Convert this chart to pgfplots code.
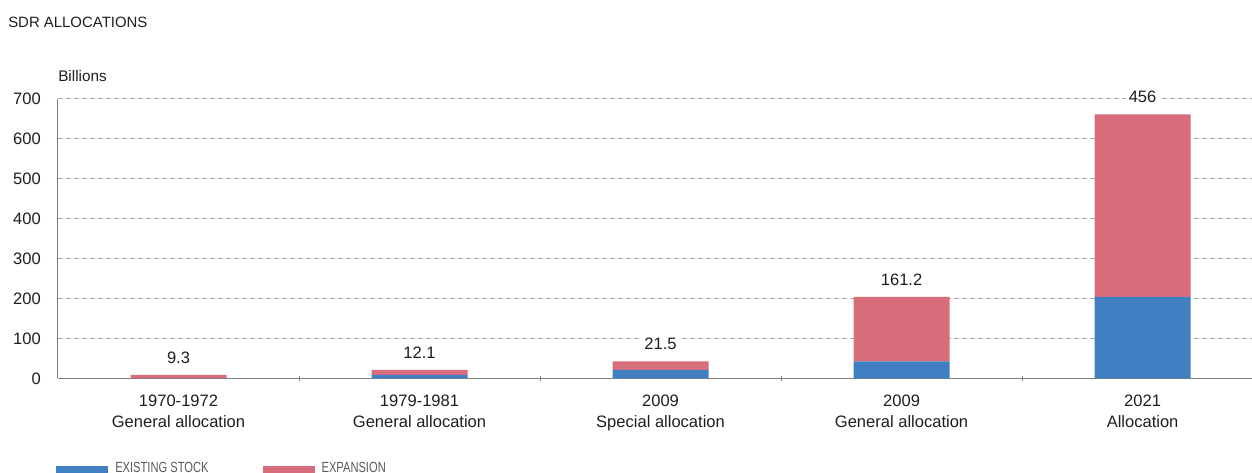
\documentclass[border=0pt]{standalone}
\usepackage{fontspec}
\setmainfont{Liberation Sans}
\newfontfamily\legfont{Liberation Sans}[FakeStretch=0.76]
\usepackage{pgfplots}
\usepackage{pgfplotstable}
\pgfplotsset{compat=1.18}

\definecolor{stockblue}{HTML}{3F7FC2}
\definecolor{exppink}{HTML}{D86D7B}
\definecolor{gridgray}{HTML}{AAAAAA}
\definecolor{axisgray}{HTML}{7F7F7F}
\definecolor{txt}{HTML}{1E1E1E}

% SDR allocations, billions: existing stock and expansion
% (top is a zero-height layer that only carries the value labels)
\pgfplotstableread{
x stock exp top lab
0 0     9.3   0 9.3
1 9.3   12.1  0 12.1
2 21.4  21.5  0 21.5
3 42.9  161.2 0 161.2
4 204.1 456   0 456
}\sdrdata

\begin{document}
\begin{tikzpicture}
% picture frame, 1px = 0.75pt; the legend is cut at the bottom edge
\path[use as bounding box, clip] (-43.5pt,-70.875pt) rectangle (895.5pt,283.875pt);
\begin{axis}[
  at={(0pt,0pt)}, anchor=south west,
  scale only axis, width=895.5pt, height=210pt,
  ybar stacked, bar width=72pt, stacked ignores zero=false,
  xmin=-0.5, xmax=4.454, ymin=0, ymax=700,
  axis x line=bottom, axis y line=left,
  axis line style={draw=axisgray, line width=0.75pt, -},
  clip=false,
  xtick={0,...,4},
  xticklabels={{1970-1972\\General allocation},{1979-1981\\General allocation},
    {2009\\Special allocation},{2009\\General allocation},{2021\\Allocation}},
  xticklabel style={align=center, inner sep=0pt, anchor=north, yshift=-12.5pt,
    font=\fontsize{12.4}{15.75}\selectfont, text=txt},
  extra x ticks={0.5,1.5,2.5,3.5},
  extra x tick labels={},
  extra x tick style={major tick length=4pt, tick style={draw=axisgray, line width=0.6pt}},
  major tick length=0pt,
  ytick={0,100,...,700},
  yticklabel style={inner sep=0pt, anchor=east, xshift=-12.75pt,
    font=\fontsize{12.4}{14}\selectfont, text=txt},
  /pgf/number format/assume math mode=true,
  ymajorgrids,
  grid style={draw=gridgray, line width=0.6pt, dash pattern=on 3.75pt off 2.25pt},
  legend style={at={(axis description cs:0,0)}, anchor=north west,
    xshift=-1.5pt, yshift=-62.6pt, draw=none, fill=none, inner sep=0pt,
    legend columns=2, column sep=5.25pt,
    /tikz/every even column/.append style={column sep=40.5pt},
    nodes={inner sep=0pt, font=\legfont\fontsize{11}{12}\selectfont, text=black!65}},
  legend image code/.code={\fill[#1] (0pt,-11.25pt) rectangle (39pt,1.75pt);},
]
\addplot[fill=stockblue, draw=none] table[x=x, y=stock] {\sdrdata};
\addlegendentry{EXISTING STOCK}
\addplot[fill=exppink, draw=none] table[x=x, y=exp] {\sdrdata};
\addlegendentry{EXPANSION}
\addplot[draw=none, fill=none, forget plot,
  point meta=explicit symbolic,
  nodes near coords,
  every node near coord/.append style={anchor=south, yshift=8.5pt,
    fill=white, inner xsep=2pt, inner ysep=0pt,
    font=\fontsize{12.4}{14}\selectfont, text=txt}]
  table[x=x, y=top, meta=lab] {\sdrdata};
\end{axis}
\node[anchor=base west, inner sep=0pt, font=\fontsize{11.2}{13}\selectfont, text=txt]
  at (-37.5pt,262.9pt) {SDR ALLOCATIONS};
\node[anchor=base west, inner sep=0pt, font=\fontsize{11.5}{13}\selectfont, text=txt]
  at (0pt,222.4pt) {Billions};
\end{tikzpicture}
\end{document}
